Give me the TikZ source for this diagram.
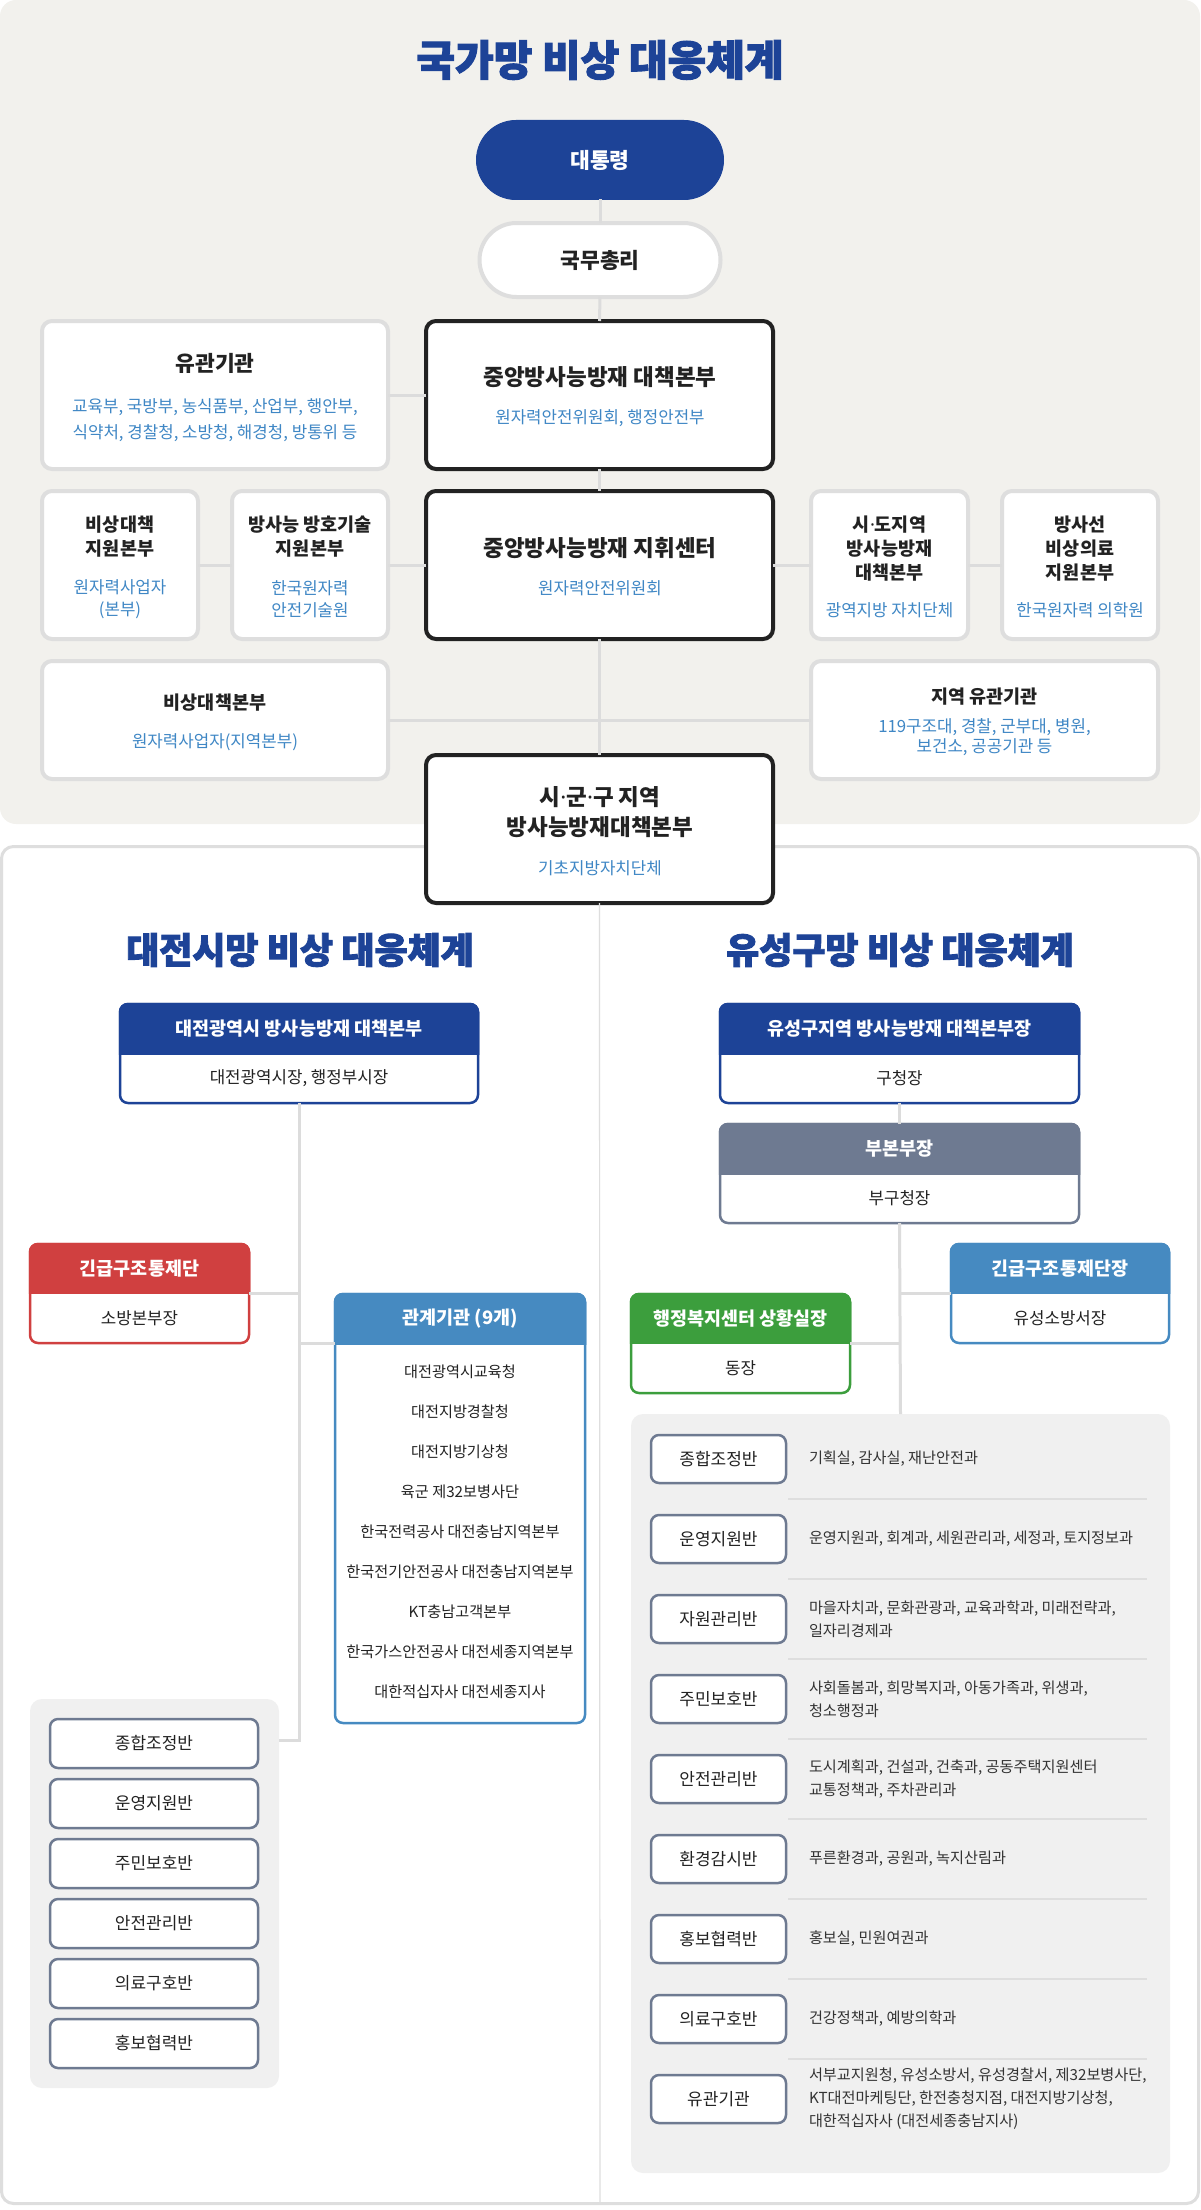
\documentclass[tikz,border=0pt]{standalone}
\usepackage{fontspec}
\setmainfont{Noto Sans CJK KR}
\newfontfamily\heavyfont{Noto Sans CJK KR}[FakeBold=2.5]
\newfontfamily\dotfont{Noto Sans}
\definecolor{navy}{HTML}{1D4397}
\definecolor{panelbg}{HTML}{F2F1ED}
\definecolor{lgray}{HTML}{DEDEDE}
\definecolor{ink}{HTML}{222222}
\definecolor{dtext}{HTML}{333333}
\definecolor{bluetxt}{HTML}{3F87C5}
\definecolor{redh}{HTML}{D04040}
\definecolor{steel}{HTML}{468AC1}
\definecolor{slate}{HTML}{6E7A91}
\definecolor{greenh}{HTML}{3C9E3D}
\definecolor{grayp}{HTML}{F0F0F0}
\definecolor{connc}{HTML}{DCDCDC}
\newcommand\mdot{{\dotfont ·}}
\tikzset{
  every node/.style={inner sep=0pt, outer sep=0pt},
  conn/.style={draw=connc, line width=3pt},
  gbox/.style={draw=lgray, line width=4pt, fill=white, rounded corners=10pt},
  kbox/.style={draw=ink, line width=4pt, fill=white, rounded corners=10pt},
  ttl/.style={font=\heavyfont\bfseries\fontsize{42}{46}\selectfont, text=navy},
  ttlb/.style={font=\heavyfont\bfseries\fontsize{36}{40}\selectfont, text=navy},
  bigb/.style={font=\bfseries\fontsize{22.5}{30}\selectfont, text=ink, align=center},
  midb/.style={font=\bfseries\fontsize{18.5}{23.5}\selectfont, text=ink, align=center},
  blu/.style={font=\fontsize{16.8}{22}\selectfont, text=bluetxt, align=center},
  hdrt/.style={font=\bfseries\fontsize{18.5}{22}\selectfont, text=white},
  bodyt/.style={font=\fontsize{16.8}{22}\selectfont, text=ink, align=center},
  itembox/.style={draw=slate, line width=2.5pt, fill=white, rounded corners=8pt,
    font=\fontsize{17}{20}\selectfont, text=ink},
  desctxt/.style={font=\fontsize{15.2}{23}\selectfont, text=dtext, align=left},
  listtxt/.style={font=\fontsize{15.2}{40}\selectfont, text=ink, align=center},
  graypanel/.style={fill=grayp, rounded corners=12pt},
}
% simple box: name, x1, y1, x2, y2, style
\newcommand\mkbox[6]{\node[#6, anchor=north west, minimum width={(#4-#2)*1pt}, minimum height={(#5-#3)*1pt}] (#1) at (#2,#3) {};}
% header box: name, x1, y1, x2, ymid, y2, colour, header, body
\newcommand\mkhdr[9]{%
  \node[fill=white, draw=#7, line width=2.5pt, rounded corners=8pt, anchor=north west,
    minimum width={(#4-#2)*1pt}, minimum height={(#6-#3)*1pt}] (#1) at (#2,#3) {};
  \begin{scope}
    \clip (#2-3,#3-3) rectangle (#4+3,#5);
    \fill[#7, rounded corners=8pt] (#2,#3) rectangle (#4,#6);
    \draw[#7, line width=2.5pt, rounded corners=8pt] (#2,#3) rectangle (#4,#6);
  \end{scope}
  \node[hdrt] (#1-h) at ({(#2+#4)/2},{(#3+#5)/2}) {#8};
  \node[bodyt] (#1-b) at ({(#2+#4)/2},{(#5+#6)/2}) {#9};
}
\newcommand\rrow[3]{%
  \node[itembox, anchor=north west, minimum width=135pt, minimum height=48pt] (ri#1) at (651,{1435+80*#1}) {#2};
  \node[desctxt, anchor=west] (rd#1) at (809,{1459+80*#1}) {#3};
}
\newcommand\lrow[2]{%
  \node[itembox, anchor=north west, minimum width=208pt, minimum height=49pt] (li#1) at (50,{1719+60*#1}) {#2};
}
\begin{document}
\begin{tikzpicture}[x=1pt,y=-1pt]
\useasboundingbox (0,0) rectangle (1200,2210);
% panels
\fill[panelbg, rounded corners=16pt] (0,0) rectangle (1200,824);
\draw[lgray, line width=3pt, fill=white, rounded corners=12pt] (1.5,846.5) rectangle (1198.5,2203.5);

% ---------- national ----------
\node[ttl] (title) at (600,60) {국가망 비상 대응체계};

\node[fill=navy, draw=navy, line width=1pt, minimum width=247pt, minimum height=79pt, rounded corners=39.5pt,
  font=\bfseries\fontsize{21.5}{24}\selectfont, text=white] (pres) at (600,160) {대통령};
\node[fill=white, draw=lgray, line width=4pt, minimum width=241pt, minimum height=74pt, rounded corners=37pt,
  font=\bfseries\fontsize{21.5}{24}\selectfont, text=ink] (pm) at (600,260) {국무총리};

\mkbox{yg}{42}{321}{388}{469}{gbox}
\node[bigb, font=\bfseries\fontsize{21.5}{26}\selectfont] (yg-t) at (215,363) {유관기관};
\node[blu, font=\fontsize{16.8}{26}\selectfont] (yg-s) at (215,420) {교육부, 국방부, 농식품부, 산업부, 행안부,\\식약처, 경찰청, 소방청, 해경청, 방통위 등};

\mkbox{hq}{426}{321}{773}{469}{kbox}
\node[bigb] (hq-t) at (600,377) {중앙방사능방재 대책본부};
\node[blu] (hq-s) at (600,418) {원자력안전위원회, 행정안전부};

\mkbox{b1}{42}{491}{198}{639}{gbox}
\node[midb] (b1-t) at (120,536.5) {비상대책\\지원본부};
\node[blu] (b1-s) at (120,599) {원자력사업자\\(본부)};

\mkbox{b2}{232}{491}{388}{639}{gbox}
\node[midb] (b2-t) at (310,536.5) {방사능 방호기술\\지원본부};
\node[blu] (b2-s) at (310,599) {한국원자력\\안전기술원};

\mkbox{cc}{426}{491}{773}{639}{kbox}
\node[bigb] (cc-t) at (600,548) {중앙방사능방재 지휘센터};
\node[blu] (cc-s) at (600,588) {원자력안전위원회};

\mkbox{b4}{811}{491}{968}{639}{gbox}
\node[midb, font=\bfseries\fontsize{18.5}{24}\selectfont] (b4-t) at (889.5,549) {시\mdot 도지역\\방사능방재\\대책본부};
\node[blu] (b4-s) at (889.5,610) {광역지방 자치단체};

\mkbox{b5}{1002}{491}{1158}{639}{gbox}
\node[midb, font=\bfseries\fontsize{18.5}{24}\selectfont] (b5-t) at (1080,549) {방사선\\비상의료\\지원본부};
\node[blu] (b5-s) at (1080,610) {한국원자력 의학원};

\mkbox{e1}{42}{661}{388}{779}{gbox}
\node[midb] (e1-t) at (215,703) {비상대책본부};
\node[blu] (e1-s) at (215,742) {원자력사업자(지역본부)};

\mkbox{e2}{811}{661}{1158}{779}{gbox}
\node[midb] (e2-t) at (984.5,697) {지역 유관기관};
\node[blu, font=\fontsize{16.8}{20.5}\selectfont] (e2-s) at (984.5,737) {119구조대, 경찰, 군부대, 병원,\\보건소, 공공기관 등};

\mkbox{sgg}{426}{755}{773}{903}{kbox}
\node[bigb] (sgg-t) at (600,812) {시\mdot 군\mdot 구 지역\\방사능방재대책본부};
\node[blu] (sgg-s) at (600,868) {기초지방자치단체};

% national connectors
\draw[conn] (pres.south) -- (pm.north);
\draw[conn] (pm.south) -- (hq.north);
\draw[conn] (hq.south) -- (cc.north);
\draw[conn] (cc.south) -- (sgg.north);
\draw[conn] (yg.east) -- (hq.west);
\draw[conn] (b1.east) -- (b2.west);
\draw[conn] (b2.east) -- (cc.west);
\draw[conn] (cc.east) -- (b4.west);
\draw[conn] (b4.east) -- (b5.west);
\draw[conn] (e1.east) -- (e2.west);

% divider
\coordinate (divend) at (600,2202);
\draw[lgray, line width=1.2pt] (sgg.south) -- (divend);

% ---------- Daejeon ----------
\node[ttlb] (djt) at (300,950) {대전시망 비상 대응체계};
\mkhdr{dj}{120}{1004}{478}{1054}{1103}{navy}{대전광역시 방사능방재 대책본부}{대전광역시장, 행정부시장}
\mkhdr{fire}{30}{1244}{249}{1293}{1343}{redh}{긴급구조통제단}{소방본부장}
\mkhdr{rel}{335}{1294}{585}{1344}{1723}{steel}{관계기관 (9개)}{}
\node[listtxt] (rel-list) at (460,1532) {대전광역시교육청\\대전지방경찰청\\대전지방기상청\\육군 제32보병사단\\한국전력공사 대전충남지역본부\\한국전기안전공사 대전충남지역본부\\KT충남고객본부\\한국가스안전공사 대전세종지역본부\\대한적십자사 대전세종지사};
\node[graypanel, anchor=north west, minimum width=249pt, minimum height=389pt] (lg) at (30,1699) {};
\lrow{0}{종합조정반}
\lrow{1}{운영지원반}
\lrow{2}{주민보호반}
\lrow{3}{안전관리반}
\lrow{4}{의료구호반}
\lrow{5}{홍보협력반}
\coordinate (lbend) at (299,1740);
\coordinate (relj) at (299,1343);
\draw[conn] (dj.south) -- (lbend) -- (lg.east |- lbend);
\draw[conn] (fire.east) -- (fire.east -| dj.south);
\draw[conn] (relj) -- (rel.west |- relj);

% ---------- Yuseong ----------
\node[ttlb] (yst) at (900,950) {유성구망 비상 대응체계};
\mkhdr{ys}{720}{1004}{1079}{1054}{1103}{navy}{유성구지역 방사능방재 대책본부장}{구청장}
\mkhdr{dep}{720}{1124}{1079}{1174}{1223}{slate}{부본부장}{부구청장}
\mkhdr{fire2}{951}{1244}{1169}{1293}{1343}{steel}{긴급구조통제단장}{유성소방서장}
\mkhdr{adm}{631}{1294}{850}{1343}{1393}{greenh}{행정복지센터 상황실장}{동장}
\node[graypanel, anchor=north west, minimum width=539pt, minimum height=759pt] (rg) at (631,1414) {};
\foreach \k in {0,...,7} \draw[lgray, line width=1.5pt] (788,{1499+80*\k}) -- (1147,{1499+80*\k});
\rrow{0}{종합조정반}{기획실, 감사실, 재난안전과}
\rrow{1}{운영지원반}{운영지원과, 회계과, 세원관리과, 세정과, 토지정보과}
\rrow{2}{자원관리반}{마을자치과, 문화관광과, 교육과학과, 미래전략과,\\일자리경제과}
\rrow{3}{주민보호반}{사회돌봄과, 희망복지과, 아동가족과, 위생과,\\청소행정과}
\rrow{4}{안전관리반}{도시계획과, 건설과, 건축과, 공동주택지원센터\\교통정책과, 주차관리과}
\rrow{5}{환경감시반}{푸른환경과, 공원과, 녹지산림과}
\rrow{6}{홍보협력반}{홍보실, 민원여권과}
\rrow{7}{의료구호반}{건강정책과, 예방의학과}
\rrow{8}{유관기관}{서부교지원청, 유성소방서, 유성경찰서, 제32보병사단,\\KT대전마케팅단, 한전충청지점, 대전지방기상청,\\대한적십자사 (대전세종충남지사)}
\draw[conn] (ys.south) -- (dep.north);
\draw[conn] (dep.south) -- (rg.north);
\draw[conn] (fire2.west) -- (fire2.west -| dep.south);
\draw[conn] (adm.east) -- (adm.east -| dep.south);
\end{tikzpicture}
\end{document}
